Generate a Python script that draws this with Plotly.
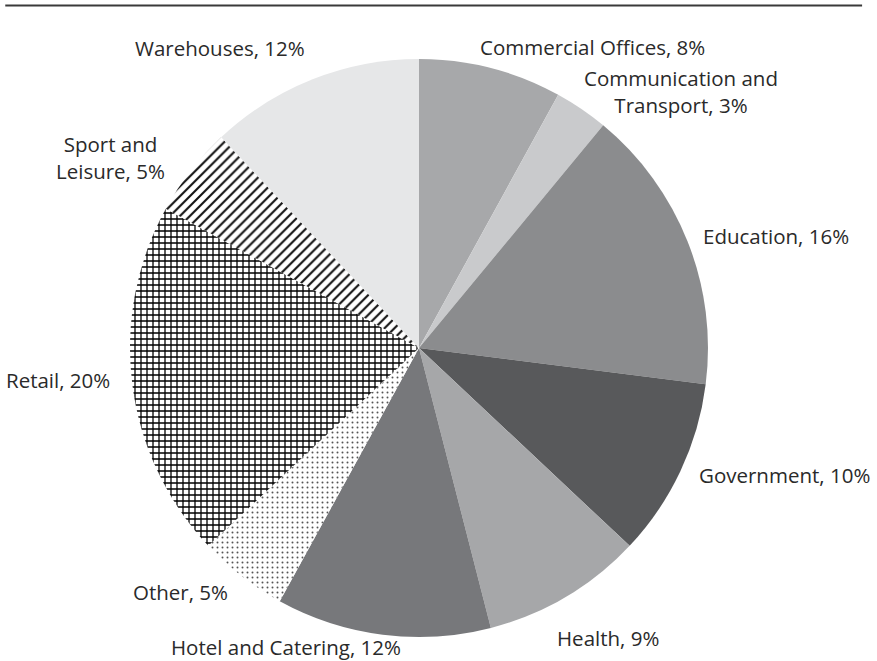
import math
import plotly.graph_objects as go

# Floor-area share by building use
sectors = [
    "Commercial Offices", "Communication and<br>Transport", "Education",
    "Government", "Health", "Hotel and Catering", "Other", "Retail",
    "Sport and<br>Leisure", "Warehouses",
]
shares = [8, 3, 16, 10, 9, 12, 5, 20, 5, 12]

fills = ["#a7a8aa", "#c9cacc", "#8b8c8e", "#58595b", "#a6a7a9",
         "#77787b", "#ffffff", "#ffffff", "#ffffff", "#e6e7e8"]
patterns = ["", "", "", "", "", "", ".", "+", "/", ""]
pattern_ink = ["#000000"] * 6 + ["#555555", "#000000", "#111111", "#000000"]
pattern_size = [6, 6, 6, 6, 6, 6, 5, 6, 7, 6]
pattern_solidity = [0.2, 0.2, 0.2, 0.2, 0.2, 0.2, 0.12, 0.38, 0.3, 0.2]

# label placement: anchors plus pixel nudges from the point just outside the rim
label_xanchor = ["left", "left", "left", "left", "left",
                 "right", "right", "right", "right", "right"]
label_dx = [-16, -8, 0, 3, -18, 22, -3, -6, -12, 0]
label_dy = [7, 6, 0, 2, -29, 2, -4, 6, 5, 18]

W, H = 877, 661
dom_x = [0.1482, 0.8073]
dom_y = [0.0363, 0.9107]

fig = go.Figure()
fig.add_trace(go.Pie(
    labels=sectors,
    values=shares,
    sort=False,
    direction="clockwise",
    rotation=0,
    textinfo="none",
    marker=dict(
        colors=fills,
        line=dict(width=0),
        pattern=dict(shape=patterns, fgcolor=pattern_ink, bgcolor="#ffffff",
                     size=pattern_size, solidity=pattern_solidity),
    ),
    domain=dict(x=dom_x, y=dom_y),
    showlegend=False,
    hoverinfo="label+value",
))

# pie geometry in pixels
cx = (dom_x[0] + dom_x[1]) / 2 * W
cy = (1 - (dom_y[0] + dom_y[1]) / 2) * H
radius = min((dom_x[1] - dom_x[0]) * W, (dom_y[1] - dom_y[0]) * H) / 2
label_r = radius * 1.05

total = sum(shares)
annotations = []
cum = 0.0
for i, (name, val) in enumerate(zip(sectors, shares)):
    mid = (cum + val / 2) / total * 2 * math.pi
    cum += val
    px = cx + label_r * math.sin(mid)
    py = cy - label_r * math.cos(mid)
    annotations.append(dict(
        x=px / W, y=1 - py / H, xref="paper", yref="paper",
        text=f"{name}, {val}%", showarrow=False, align="center",
        xanchor=label_xanchor[i], yanchor="middle",
        xshift=label_dx[i], yshift=label_dy[i],
        font=dict(family="Open Sans, Liberation Sans, sans-serif",
                  size=20.5, color="#2a2a2a"),
    ))

fig.update_layout(
    width=W, height=H,
    margin=dict(l=0, r=0, t=0, b=0),
    paper_bgcolor="#ffffff",
    plot_bgcolor="#ffffff",
    annotations=annotations,
    shapes=[dict(type="line", xref="paper", yref="paper",
                 x0=0.006, x1=0.983, y0=0.9915, y1=0.9915,
                 line=dict(color="#3a3a3a", width=2))],
)

fig.write_html("out.html")
